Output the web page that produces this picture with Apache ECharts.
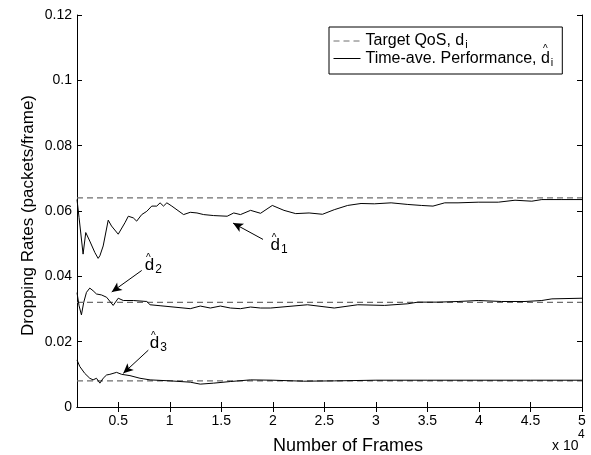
<!DOCTYPE html>
<html>
<head>
<meta charset="utf-8">
<script src="https://cdn.jsdelivr.net/npm/echarts@6/dist/echarts.min.js"></script>
<style>
  html, body { margin: 0; padding: 0; background: #fff; }
  #main { width: 591px; height: 455px; }
</style>
</head>
<body>
<div id="main"></div>
<script>
// frames on x, dropping rate on y
var xTicks = [5000, 10000, 15000, 20000, 25000, 30000, 35000, 40000, 45000, 50000];
var yTicks = [0, 0.02, 0.04, 0.06, 0.08, 0.1, 0.12];
var targets = [0.064, 0.032, 0.008];

var d1Frames = [1000, 1200, 1590, 1850, 2240, 2730, 3050, 3220, 3540, 4030, 4350, 5000, 5170, 5650, 5980, 6460, 6790, 7280, 7770, 8250, 8740, 9060, 9390, 9720, 10200, 11340, 11990, 12640, 13290, 14260, 15570, 16210, 16860, 17840, 18810, 19950, 21080, 22220, 23520, 24820, 25960, 27260, 28560, 29850, 31480, 33100, 34410, 35540, 36680, 37970, 39930, 41880, 43500, 45130, 46100, 48050, 50000];
var d1Vals = [0.0635, 0.058, 0.0468, 0.0534, 0.0508, 0.0473, 0.0455, 0.0463, 0.0493, 0.0572, 0.0554, 0.0529, 0.0529, 0.0564, 0.0584, 0.0579, 0.0569, 0.0589, 0.0599, 0.0615, 0.0615, 0.0625, 0.0615, 0.0625, 0.0615, 0.0589, 0.0596, 0.0594, 0.0589, 0.0586, 0.0584, 0.0594, 0.0589, 0.0602, 0.0593, 0.0617, 0.0602, 0.0592, 0.0594, 0.059, 0.0604, 0.0617, 0.0623, 0.0622, 0.0625, 0.062, 0.0617, 0.0615, 0.0625, 0.0625, 0.0627, 0.0627, 0.0633, 0.063, 0.0635, 0.0635, 0.0635];

var d2Frames = [1000, 1200, 1430, 1650, 1920, 2240, 2560, 2890, 3380, 3870, 4510, 5000, 5490, 6460, 7770, 8090, 9060, 11990, 12960, 13940, 14910, 15890, 16860, 17840, 18810, 19790, 23360, 25960, 28240, 30830, 33100, 34080, 36030, 37980, 39930, 42200, 44470, 46100, 47080, 50000];
var d2Vals = [0.035, 0.031, 0.0282, 0.032, 0.0351, 0.0364, 0.0356, 0.0346, 0.0343, 0.0336, 0.0311, 0.0333, 0.0326, 0.0326, 0.0323, 0.0313, 0.031, 0.0301, 0.0309, 0.0303, 0.0309, 0.0303, 0.0301, 0.0306, 0.0303, 0.0303, 0.0313, 0.0303, 0.0313, 0.0311, 0.0316, 0.0321, 0.0321, 0.0323, 0.0326, 0.0323, 0.0323, 0.0326, 0.0331, 0.0333];

var d3Frames = [1000, 1270, 1750, 2240, 2560, 2890, 3220, 3540, 3870, 4190, 4840, 5330, 6140, 7110, 8090, 10040, 11990, 12960, 14260, 15890, 17840, 20000, 23000, 26000, 30000, 35000, 40000, 45000, 50000];
var d3Vals = [0.0144, 0.0124, 0.0103, 0.0088, 0.0083, 0.0088, 0.0073, 0.0088, 0.0098, 0.01, 0.0106, 0.01, 0.0096, 0.0088, 0.0083, 0.008, 0.0076, 0.007, 0.0073, 0.0078, 0.0083, 0.0082, 0.0079, 0.008, 0.0082, 0.0082, 0.0082, 0.0082, 0.0082];

// annotation arrows: [tail, head] and label spots, in data coords
var arrows = [
  [[19050, 0.0513], [16140, 0.0563]],
  [[7280, 0.0418], [4370, 0.0352]],
  [[7920, 0.0174], [5490, 0.0103]]
];
var labelSpots = [[20600, 0.0495], [8400, 0.0434], [8900, 0.0195]];

function zip(xs, ys) {
  var out = [];
  for (let i = 0; i < xs.length; i++) {
    out.push([xs[i], ys[i]]);
  }
  return out;
}

var font = 'Liberation Sans, Arial, Helvetica, sans-serif';
var chart = echarts.init(document.getElementById('main'));

var series = [];
targets.forEach(function (t) {
  series.push({
    name: 'Target QoS',
    type: 'line',
    data: [[1000, t], [50000, t]],
    symbol: 'none',
    silent: true,
    lineStyle: { color: '#6e6e6e', width: 1.2, type: [6, 4] },
    itemStyle: { color: '#6e6e6e' },
    z: 2
  });
});

var curves = [zip(d1Frames, d1Vals), zip(d2Frames, d2Vals), zip(d3Frames, d3Vals)];
curves.forEach(function (c, i) {
  series.push({
    name: 'Time-ave. Performance',
    type: 'line',
    data: c,
    symbol: 'none',
    silent: true,
    lineStyle: { color: '#000', width: 1 },
    itemStyle: { color: '#000' },
    z: 3,
    markLine: {
      silent: true,
      symbol: ['none', 'arrow'],
      symbolSize: [7, 10],
      lineStyle: { color: '#000', width: 1, type: 'solid' },
      label: { show: false },
      data: [[{ coord: arrows[i][0] }, { coord: arrows[i][1] }]]
    },
    markPoint: {
      silent: true,
      symbol: 'circle',
      symbolSize: 1,
      itemStyle: { color: 'rgba(0,0,0,0)' },
      label: { show: true, position: 'inside', color: '#000' },
      data: [
        {
          coord: labelSpots[i],
          label: {
            formatter: '{d|d}{s|' + (i + 1) + '}',
            rich: {
              d: { fontFamily: font, fontSize: 17, color: '#000' },
              s: { fontFamily: font, fontSize: 12, color: '#000', padding: [9, 0, 0, 1] }
            }
          }
        },
        {
          coord: labelSpots[i],
          label: {
            formatter: '^',
            offset: [-5, -7],
            fontFamily: font, fontSize: 10, color: '#000'
          }
        }
      ]
    }
  });
});

var tickStyle = { show: true, inside: true, length: 5, lineStyle: { color: '#000', width: 1 } };

chart.setOption({
  animation: false,
  backgroundColor: '#fff',
  grid: { left: 77, right: 9, top: 15, bottom: 48 },
  legend: {
    orient: 'vertical',
    left: 329,
    top: 27,
    data: ['Target QoS', 'Time-ave. Performance'],
    backgroundColor: '#fff',
    borderColor: '#000',
    borderWidth: 1,
    borderRadius: 0,
    padding: [6, 9, 6, 4],
    itemGap: 0,
    itemWidth: 27,
    itemHeight: 17,
    itemStyle: { opacity: 0, borderWidth: 0 },
    lineStyle: { width: 1 },
    formatter: function (name) {
      if (name === 'Target QoS') return '{t|Target QoS, d}{s|i}';
      return '{t|Time-ave. Performance, d}{s|i}';
    },
    textStyle: {
      fontFamily: font, fontSize: 16, color: '#000',
      rich: {
        t: { fontFamily: font, fontSize: 16, color: '#000' },
        s: { fontFamily: font, fontSize: 11, color: '#000', padding: [8, 0, 0, 1] }
      }
    }
  },
  xAxis: [{
    type: 'value',
    min: 1000,
    max: 50000,
    axisLine: { show: true, lineStyle: { color: '#000', width: 1 } },
    axisTick: Object.assign({ customValues: xTicks }, tickStyle),
    axisLabel: {
      customValues: xTicks,
      margin: 7,
      fontFamily: font, fontSize: 14, color: '#000',
      formatter: function (v) { return String(v / 10000); }
    },
    splitLine: { show: false }
  }, {
    type: 'value',
    position: 'top',
    min: 1000,
    max: 50000,
    axisLine: { show: true, lineStyle: { color: '#000', width: 1 } },
    axisTick: Object.assign({ customValues: xTicks }, tickStyle),
    axisLabel: { show: false },
    splitLine: { show: false }
  }],
  yAxis: [{
    type: 'value',
    min: 0,
    max: 0.12,
    interval: 0.02,
    axisLine: { show: true, lineStyle: { color: '#000', width: 1 } },
    axisTick: tickStyle,
    axisLabel: {
      margin: 5,
      fontFamily: font, fontSize: 14, color: '#000',
      formatter: function (v) { return String(parseFloat(v.toFixed(2))); }
    },
    splitLine: { show: false }
  }, {
    type: 'value',
    position: 'right',
    min: 0,
    max: 0.12,
    interval: 0.02,
    axisLine: { show: true, lineStyle: { color: '#000', width: 1 } },
    axisTick: tickStyle,
    axisLabel: { show: false },
    splitLine: { show: false }
  }],
  graphic: [
    {
      type: 'text',
      left: 273,
      top: 437,
      style: { text: 'Number of Frames', fontFamily: font, fontSize: 18, fill: '#000' }
    },
    {
      type: 'text',
      left: 552,
      top: 439,
      style: { text: 'x 10', fontFamily: font, fontSize: 14, fill: '#000' }
    },
    {
      type: 'text',
      left: 578,
      top: 429,
      style: { text: '4', fontFamily: font, fontSize: 12, fill: '#000' }
    },
    {
      type: 'text',
      left: 20,
      top: 95,
      rotation: Math.PI / 2,
      style: { text: 'Dropping Rates (packets/frame)', fontFamily: font, fontSize: 17, fill: '#000' }
    },
    {
      // hat over the d in the second legend entry
      type: 'text',
      left: 543,
      top: 44,
      z: 100,
      style: { text: '^', fontFamily: font, fontSize: 10, fill: '#000' }
    }
  ],
  series: series
});
</script>
</body>
</html>
